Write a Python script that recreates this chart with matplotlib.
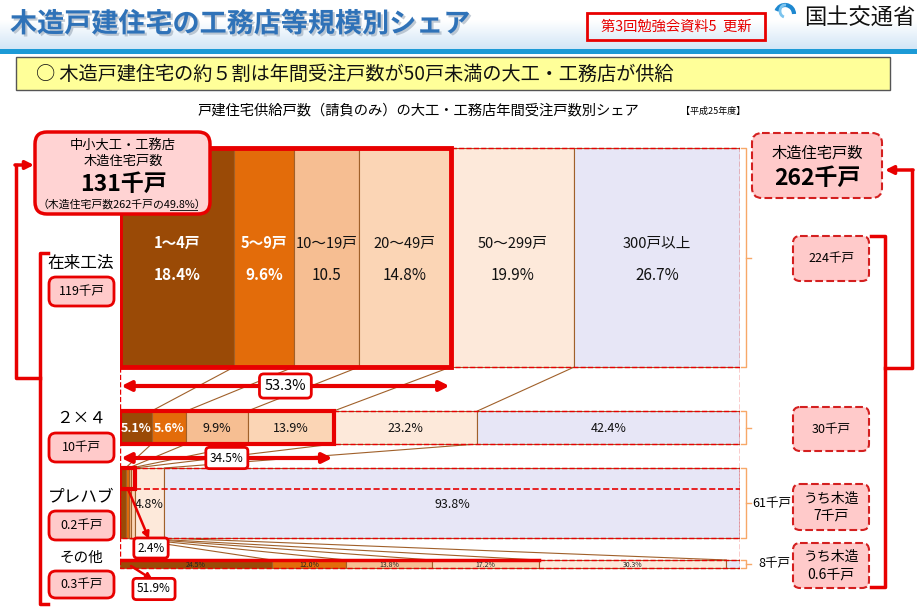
import numpy as np
import matplotlib.pyplot as plt
import matplotlib.patheffects as pe
from matplotlib.patches import FancyBboxPatch, Rectangle, Arc
from matplotlib.colors import LinearSegmentedColormap

plt.rcParams['font.family'] = ['Noto Sans CJK JP', 'DejaVu Sans']

# data
sizes = ['1～4戸', '5～9戸', '10～19戸', '20～49戸', '50～299戸', '300戸以上']
colors = ['#9A4A06', '#E36C0A', '#F6BE92', '#FBD5B5', '#FDE9DA', '#E7E6F6']

zairai = [18.4, 9.6, 10.5, 14.8, 19.9, 26.7]
zairai_labels = ['18.4%', '9.6%', '10.5', '14.8%', '19.9%', '26.7%']
two_by_four = [5.1, 5.6, 9.9, 13.9, 23.2, 42.4]
prefab = [0.9, 0.5, 0.4, 0.6, 4.8, 93.8]   # first four read as a 2.4% sliver
sonota = [24.5, 12.0, 13.8, 17.2, 30.3, 2.2]

row_names = ['在来工法', '２×４', 'プレハブ', 'その他']
row_houses = ['119千戸', '10千戸', '0.2千戸', '0.3千戸']
right_boxes = ['224千戸', '30千戸', 'うち木造\n7千戸', 'うち木造\n0.6千戸']
row_totals = ['', '', '61千戸', '8千戸']
small_share = ['53.3%', '34.5%', '2.4%', '51.9%']

RED = '#E80000'
BROWN = '#A0602A'
ORANGE = '#F7A868'

fig = plt.figure(figsize=(9.17, 6.12), dpi=100)
ax = fig.add_axes([0, 0, 1, 1])
ax.set_xlim(0, 917)
ax.set_ylim(612, 0)
ax.axis('off')
ax.set_zorder(5)

# header
grad = np.linspace(0, 1, 50).reshape(-1, 1)
cm = LinearSegmentedColormap.from_list('hd', ['#FFFFFF', '#D3E6F6'])
ax.imshow(grad, extent=[0, 917, 49, 20], cmap=cm, aspect='auto', zorder=0)
ax.add_patch(Rectangle((0, 49), 917, 5, color='#1C9AD6', lw=0))
ax.set_xlim(0, 917)
ax.set_ylim(612, 0)
ax.text(10, 24, '木造戸建住宅の工務店等規模別シェア', fontsize=19.5, fontweight='bold',
        color='#2F72B8', va='center',
        path_effects=[pe.withSimplePatchShadow(offset=(1.5, -1.5), shadow_rgbFace='#9AA8B8', alpha=0.6)])
ax.add_patch(Rectangle((587, 13), 178, 27, fill=False, ec=RED, lw=2))
ax.text(676, 27, '第3回勉強会資料5  更新', fontsize=10.3, color=RED, ha='center', va='center')
ax.add_patch(Arc((785, 14), 18, 18, theta1=200, theta2=360, color='#1E88D0', lw=3))
ax.add_patch(Arc((785, 11), 10, 12, theta1=100, theta2=280, color='#7CC4EE', lw=2))
ax.text(915, 17, '国土交通省', fontsize=16, color='#111111', va='center', ha='right')

ax.add_patch(Rectangle((16, 57), 874, 33, fc='#FFFF99', ec='#555555', lw=1))
ax.text(36, 74, '○ 木造戸建住宅の約５割は年間受注戸数が50戸未満の大工・工務店が供給',
        fontsize=13.8, va='center', color='#111111')
ax.text(418, 110, '戸建住宅供給戸数（請負のみ）の大工・工務店年間受注戸数別シェア',
        fontsize=10.3, ha='center', va='center')
ax.text(681, 111, '【平成25年度】', fontsize=6.5, va='center')

# bars (x in percent of row)
axb = fig.add_axes([120 / 917, 0, 620 / 917, 1])
axb.set_xlim(0, 100)
axb.set_ylim(612, 0)
axb.axis('off')
axb.set_zorder(1)

rows = [zairai, two_by_four, prefab, sonota]
row_top = [148, 411, 468, 560]
row_h = [219, 33, 70, 8]
bounds = []
for vals, top, h in zip(rows, row_top, row_h):
    v = np.array(vals, dtype=float)
    w = v / v.sum() * 100
    left = np.concatenate([[0], np.cumsum(w)[:-1]])
    axb.barh(top + h / 2, w, left=left, height=h, color=colors,
             edgecolor=BROWN, lw=0.8, zorder=2)
    bounds.append((left, w))

# connector lines between rows
for i in range(3):
    l0, w0 = bounds[i]
    l1, w1 = bounds[i + 1]
    for k in range(1, 6):
        axb.plot([l0[k], l1[k]], [row_top[i] + row_h[i], row_top[i + 1]],
                 color=BROWN, lw=0.8, zorder=1)

# row 1 labels
l, w = bounds[0]
for k in range(6):
    c = 'white' if k < 2 else '#111111'
    fw = 'bold' if k < 2 else 'normal'
    axb.text(l[k] + w[k] / 2, 243, sizes[k], ha='center', va='center',
             fontsize=10.5, color=c, fontweight=fw, zorder=5)
    axb.text(l[k] + w[k] / 2, 275, zairai_labels[k], ha='center', va='center',
             fontsize=11, color=c, fontweight=fw, zorder=5)
# row 2 labels
l, w = bounds[1]
for k in range(6):
    c = 'white' if k < 2 else '#111111'
    axb.text(l[k] + w[k] / 2, 428, f'{two_by_four[k]}%', ha='center', va='center',
             fontsize=9, color=c, fontweight='bold' if k < 2 else 'normal', zorder=5)
# row 3 labels
l, w = bounds[2]
for k in (4, 5):
    axb.text(l[k] + w[k] / 2, 504, f'{prefab[k]}%', ha='center', va='center',
             fontsize=9, color='#111111', zorder=5)
# row 4 labels
l, w = bounds[3]
for k in range(5):
    axb.text(l[k] + w[k] / 2, 565, f'{sonota[k]}%', ha='center', va='center',
             fontsize=5, color='#222222', zorder=5)

# red outlines
for top, h in zip(row_top, row_h):
    axb.add_patch(Rectangle((0, top), 100, h, fill=False, ec=RED, ls='--', lw=1, zorder=3))
axb.plot([0, 0], [367, 560], color=RED, ls='--', lw=1, zorder=3)
axb.plot([100, 100], [367, 560], color=RED, ls='--', lw=1, zorder=3)
axb.plot([2.4, 100], [489, 489], color=RED, ls='--', lw=1.2, zorder=3)
s = [sum(r[:4]) / sum(r) * 100 for r in rows]
axb.add_patch(Rectangle((0, row_top[0]), s[0], row_h[0], fill=False, ec=RED, lw=3.5, zorder=4))
axb.add_patch(Rectangle((0, row_top[1]), s[1], row_h[1], fill=False, ec=RED, lw=3, zorder=4))
axb.add_patch(Rectangle((0, row_top[2]), s[2], 21, fill=False, ec=RED, lw=3, zorder=4))
axb.plot([0, s[3]], [row_top[3], row_top[3]], color=RED, lw=2.5, zorder=4)

# share arrows
for y, share, lab, fs in [(386, s[0], small_share[0], 10.5), (458, s[1], small_share[1], 8.5)]:
    axb.annotate('', xy=(0.2, y), xytext=(share - 0.2, y),
                 arrowprops=dict(arrowstyle='<|-|>', color=RED, lw=3,
                                 mutation_scale=14, shrinkA=0, shrinkB=0), zorder=4)
    axb.text(share / 2, y, lab, ha='center', va='center', fontsize=fs, zorder=6,
             bbox=dict(boxstyle='round,pad=0.35,rounding_size=0.3', fc='white', ec=RED, lw=2))

# orange brackets on the right
for i, (top, h) in enumerate(zip(row_top, row_h)):
    ax.plot([741, 746, 746, 741], [top, top, top + h, top + h], color=ORANGE, lw=1)
    ax.plot([746, 751], [top + h / 2, top + h / 2], color=ORANGE, lw=1)
    if row_totals[i]:
        ax.text(752 + (6 if i == 3 else 0), top + h / 2, row_totals[i], fontsize=9, va='center')


def pink_box(x, y, w, h, text, fs, dashed=False, lw=2):
    ax.add_patch(FancyBboxPatch((x, y), w, h, boxstyle='round,pad=0,rounding_size=7',
                                fc='#FFCACA', ec='#D42020' if dashed else RED,
                                ls='--' if dashed else '-', lw=lw, zorder=6))
    ax.text(x + w / 2, y + h / 2, text, ha='center', va='center', fontsize=fs,
            zorder=7, linespacing=1.3)


# left side
ax.add_patch(FancyBboxPatch((35, 132), 175, 82, boxstyle='round,pad=0,rounding_size=12',
                            fc='#FFD3D3', ec=RED, lw=2.5, zorder=6))
ax.text(123, 145, '中小大工・工務店', ha='center', va='center', fontsize=9.5, zorder=7)
ax.text(123, 161, '木造住宅戸数', ha='center', va='center', fontsize=9.5, zorder=7)
ax.text(123, 184, '131千戸', ha='center', va='center', fontsize=16.5, fontweight='bold', zorder=7)
ax.text(122, 204, '（木造住宅戸数262千戸の49.8%）', ha='center', va='center', fontsize=7.8, zorder=7)
ax.plot([170, 197], [210, 210], color='#222222', lw=0.7, zorder=7)

row_label_y = [263, 418, 497, 558]
box_y = [277, 433, 511, 571]
box_h = [29, 29, 29, 27]
for i in range(4):
    ax.text(81, row_label_y[i], row_names[i], ha='center', va='center',
            fontsize=12 if i < 3 else 10.5)
    pink_box(49, box_y[i], 65, box_h[i], row_houses[i], 9)

ax.plot([40, 16, 16], [378, 378, 165], color=RED, lw=2.5)
ax.annotate('', xy=(34, 165), xytext=(15, 165),
            arrowprops=dict(arrowstyle='-|>', color=RED, lw=2.5, mutation_scale=12,
                            shrinkA=0, shrinkB=0))
ax.plot([48, 40, 40, 48], [253, 253, 604, 604], color=RED, lw=2.5)

# right side
ax.add_patch(FancyBboxPatch((752, 133), 130, 65, boxstyle='round,pad=0,rounding_size=10',
                            fc='#FFCACA', ec='#D42020', ls='--', lw=1.5, zorder=6))
ax.text(817, 153, '木造住宅戸数', ha='center', va='center', fontsize=11, zorder=7)
ax.text(817, 178, '262千戸', ha='center', va='center', fontsize=16.5, fontweight='bold', zorder=7)

rb_y = [236, 407, 484, 543]
rb_h = [45, 44, 46, 45]
for i in range(4):
    pink_box(793, rb_y[i], 76, rb_h[i], right_boxes[i], 9 if i < 2 else 10,
             dashed=True, lw=1.5)

ax.plot([871, 885, 885, 871], [236, 236, 587, 587], color=RED, lw=2.5)
ax.plot([885, 912, 912], [368, 368, 170], color=RED, lw=2.5)
ax.annotate('', xy=(885, 170), xytext=(913, 170),
            arrowprops=dict(arrowstyle='-|>', color=RED, lw=2.5, mutation_scale=12,
                            shrinkA=0, shrinkB=0))

# callouts for the small rows
ax.annotate('', xy=(149, 539), xytext=(128, 489),
            arrowprops=dict(arrowstyle='-|>', color=RED, lw=1.8, mutation_scale=10,
                            shrinkA=0, shrinkB=0), zorder=5)
ax.text(151, 548, small_share[2], ha='center', va='center', fontsize=8.5, zorder=7,
        bbox=dict(boxstyle='round,pad=0.3,rounding_size=0.3', fc='white', ec=RED, lw=2))
ax.annotate('', xy=(153, 580), xytext=(131, 566),
            arrowprops=dict(arrowstyle='-|>', color=RED, lw=1.8, mutation_scale=10,
                            shrinkA=0, shrinkB=0), zorder=5)
ax.text(154, 589, small_share[3], ha='center', va='center', fontsize=8.5, zorder=7,
        bbox=dict(boxstyle='round,pad=0.35,rounding_size=0.3', fc='white', ec=RED, lw=2))

fig.savefig('out.png', dpi=100)
